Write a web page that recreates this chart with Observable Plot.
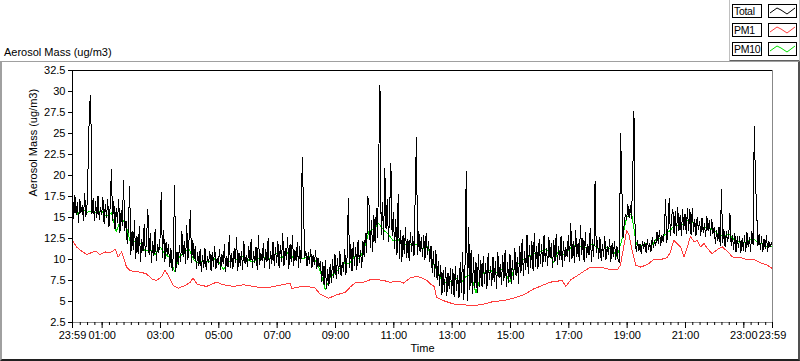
<!DOCTYPE html>
<html>
<head>
<meta charset="utf-8">
<script src="https://cdn.jsdelivr.net/npm/d3@7"></script>
<script src="https://cdn.jsdelivr.net/npm/@observablehq/plot@0.6"></script>
<style>
  html, body { margin: 0; padding: 0; background: #fff; }
  #wrap { position: relative; width: 800px; height: 361px; overflow: hidden; font-family: 'Liberation Sans', Arial, sans-serif; font-size: 11px; color: #000; }
  #header { position: absolute; left: 0; top: 0; width: 800px; height: 61px; }
  #title { position: absolute; left: 4px; top: 46px; line-height: 13px; white-space: nowrap; }
  #chart { position: absolute; left: 0; top: 61px; width: 800px; height: 300px; }
  .lbl { position: absolute; left: 732px; width: 28px; height: 12px; border: 1px solid #000; background: #fff; line-height: 12px; text-indent: 1px; white-space: nowrap; font-size: 10.5px; letter-spacing: -0.3px; overflow: hidden; }
  .sw { position: absolute; left: 768px; width: 27px; height: 12px; border: 1px solid #000; background: #fff; }
  .sw svg { position: absolute; left: 0; top: 0; }
  #mainBox { position: absolute; left: 0; top: 61px; width: 796px; height: 297px; border-top: 1px solid #a0a0a0; border-left: 2px solid #a0a0a0; border-right: 2px solid #505050; border-bottom: 2px solid #202020; pointer-events: none; }
  #legBox { position: absolute; left: 729px; top: 0; width: 69px; height: 60px; border-left: 1px solid #c0c0c0; border-bottom: 2px solid #606060; border-right: 1px solid #c0c0c0; pointer-events: none; }
</style>
</head>
<body>
<div id="wrap">
  <div id="header">
    <div id="title"></div>
  </div>
  <div id="legBox"></div>
  <div id="chart"></div>
  <div id="mainBox"></div>
</div>
<script>
// ---- Data ----
const chartTitle = "Aerosol Mass (ug/m3)";
const yLabel = "Aerosol Mass (ug/m3)";
const xLabel = "Time";
const seriesNames = ["Total", "PM1", "PM10"];
const seriesColors = ["#000000", "#ff3c3c", "#00e000"];
const xTickLabels = ["23:59","01:00","03:00","05:00","07:00","09:00","11:00","13:00","15:00","17:00","19:00","21:00","23:00","23:59"];
const yTicks = [2.5, 5, 7.5, 10, 12.5, 15, 17.5, 20, 22.5, 25, 27.5, 30, 32.5];

// Total: one value every 2.5 minutes starting 23:59 (24 per hour)
const total = [
  18.4,14.9,17.6,15.3,16.8,14.4,17.2,15.6,16.4,14.7,17.9,15.1,16.6,22.0,28.5,29.5,15.4,17.3,14.6,16.9,15.0,17.6,14.8,16.2,
  15.3,17.4,14.2,16.6,15.0,17.1,13.9,16.3,20.7,14.6,16.9,13.6,16.1,14.4,17.2,13.2,15.8,14.0,19.4,13.5,14.6,11.9,13.8,18.7,
  10.6,13.4,11.2,14.6,10.1,12.8,10.7,13.9,9.8,12.4,11.0,14.2,10.3,12.7,16.0,10.5,13.1,9.7,12.2,10.4,13.6,9.9,11.8,10.8,
  12.4,18.0,10.2,13.5,9.8,12.1,10.6,11.8,9.1,11.3,8.7,10.6,18.8,8.6,10.9,9.4,11.7,9.7,13.4,10.3,12.2,9.5,14.1,10.0,
  12.6,15.8,9.6,12.3,10.1,11.5,8.9,10.8,9.3,11.2,8.6,10.5,9.0,11.4,8.8,10.3,9.6,11.0,8.7,10.9,9.2,11.6,8.9,10.2,
  9.4,11.2,8.8,10.6,9.5,11.8,8.6,10.4,9.1,12.9,9.0,10.7,8.9,11.3,9.6,12.6,8.7,10.8,9.3,11.0,8.8,12.2,9.5,10.5,
  9.2,11.6,9.8,12.4,9.0,10.9,9.6,11.5,8.8,12.8,9.4,10.7,9.9,11.9,9.1,11.2,9.7,12.5,8.9,11.0,9.5,12.1,9.3,11.4,
  9.6,12.2,9.0,11.7,9.8,13.1,9.2,11.3,10.0,12.6,8.9,11.8,9.7,12.9,9.3,11.1,9.8,12.0,9.1,11.5,9.6,22.1,17.0,10.2,
  11.0,9.2,10.8,9.5,11.2,9.0,10.5,9.4,11.1,8.9,10.2,9.1,9.8,7.4,9.6,7.0,9.9,6.5,8.8,6.9,9.4,7.3,10.0,7.8,
  10.6,7.7,10.1,8.3,11.0,8.0,9.7,8.6,11.2,8.2,10.4,17.3,9.1,11.8,8.6,12.0,9.3,11.4,8.8,12.3,9.6,11.1,9.0,12.2,
  10.3,13.1,10.8,17.5,16.5,11.4,14.6,10.9,15.2,12.0,16.1,12.6,21.9,30.8,13.0,16.8,12.4,20.9,13.6,17.2,12.1,15.9,21.4,12.8,
  15.6,11.3,14.8,10.6,17.8,10.1,13.5,9.8,12.9,10.7,13.8,10.2,12.4,9.9,13.2,11.0,12.7,10.4,17.7,24.5,10.6,13.4,10.9,12.6,
  10.3,12.9,10.0,13.1,10.6,12.2,9.7,11.6,8.4,10.9,8.0,11.1,7.6,9.8,6.9,9.3,5.8,8.7,6.2,9.1,5.7,8.4,6.5,8.9,
  6.0,8.8,5.6,9.2,6.3,8.1,5.4,9.6,6.1,10.8,5.2,9.4,20.5,5.1,13.8,6.4,11.1,5.9,10.2,6.6,9.7,6.0,10.6,6.8,
  9.9,6.7,10.4,7.2,9.5,6.5,10.7,7.6,9.2,6.9,10.3,7.4,9.8,6.6,10.9,7.8,9.4,7.0,10.5,7.5,11.1,6.8,9.7,7.3,
  10.6,7.1,9.9,7.6,11.3,8.0,10.2,7.2,11.6,8.4,12.4,8.1,11.0,8.8,12.9,8.3,11.7,9.0,12.2,8.6,13.1,9.2,11.5,8.9,
  12.4,9.5,11.8,9.1,12.9,9.8,11.3,9.3,12.6,10.2,11.9,9.0,12.3,9.7,13.0,9.4,11.6,10.0,12.8,9.2,12.1,9.9,11.4,10.3,
  12.9,9.8,14.3,10.1,12.2,9.6,13.5,10.4,11.9,9.9,14.0,10.6,12.5,9.7,13.2,10.2,11.8,10.5,13.7,9.8,12.4,10.3,19.3,10.8,
  12.3,10.1,12.6,9.9,11.8,10.4,12.7,10.0,11.5,10.6,12.4,9.8,11.9,10.3,12.2,10.0,11.6,9.8,9.7,25.0,18.9,12.6,14.3,15.4,
  14.8,16.6,15.0,16.4,14.9,20.0,27.6,12.1,10.9,12.3,11.0,11.8,10.7,12.2,11.3,12.0,10.8,12.4,11.2,11.9,10.9,12.6,11.4,12.3,
  11.7,13.3,11.9,13.5,11.6,12.9,12.1,13.4,17.1,12.0,13.6,17.3,12.8,15.1,16.0,13.0,15.7,12.9,16.2,13.4,15.3,12.8,15.9,13.6,
  15.4,13.1,16.1,13.5,16.0,12.9,16.1,13.3,14.8,12.8,15.0,13.6,14.5,12.9,14.9,13.2,14.3,12.7,15.1,13.4,14.6,12.9,14.8,13.1,
  13.8,11.9,13.5,12.2,13.9,11.7,18.3,12.0,13.6,11.5,13.3,12.1,13.0,15.5,11.6,12.9,11.2,13.1,10.9,12.7,11.4,12.8,10.8,12.5,
  11.1,12.9,10.9,13.2,11.5,12.6,11.0,13.4,11.8,25.8,19.3,15.7,11.6,13.0,11.2,12.7,10.9,12.4,11.3,12.9,11.0,12.2,11.5,12.0,
  11.6
];

// PM10: one value every 10 minutes starting 23:59 (6 per hour)
const pm10 = [
  16.0,15.4,16.1,15.6,15.8,15.5,
  15.8,15.1,15.6,13.3,15.0,14.1,
  11.8,12.2,11.9,11.0,11.2,10.6,
  11.5,10.7,10.2,8.6,10.3,10.9,
  11.2,9.9,9.6,9.9,9.7,10.1,
  9.9,8.8,9.6,10.2,9.9,10.4,
  10.0,9.7,10.0,10.5,9.8,10.3,
  10.7,10.1,10.9,10.2,10.6,10.1,
  10.2,10.4,9.8,8.6,6.4,7.9,
  8.4,9.0,9.6,9.5,10.4,10.1,
  11.2,13.4,13.6,14.3,13.5,13.0,
  12.2,12.4,11.5,12.0,11.6,11.9,
  11.3,11.6,9.8,8.7,7.5,7.2,
  7.4,7.7,7.3,8.0,8.2,6.0,
  8.1,8.5,8.7,8.3,8.9,8.4,
  7.3,9.2,9.6,10.1,10.4,10.7,
  10.8,11.2,11.0,9.6,11.1,10.6,
  11.1,11.7,11.4,11.6,11.3,11.9,
  11.3,11.1,11.5,11.2,10.3,12.3,
  15.0,15.5,11.8,11.6,11.9,11.5,
  12.4,12.6,13.0,13.5,14.2,13.9,
  14.4,14.9,14.1,14.0,13.8,13.7,
  13.4,13.0,12.7,13.1,12.4,12.1,
  11.9,12.2,12.5,12.0,11.8,11.5,
  11.6
];

// PM1: minutes after 23:59 and values
const pm1Min = [0,8,19,29,43,49,56,67,77,88,94,101,106,111,118,125,139,152,163,173,184,190,197,207,218,232,242,248,256,266,276,296,310,331,352,372,392,406,424,448,451,461,482,499,509,527,544,561,571,581,599,613,626,640,653,671,681,695,709,719,729,736,744,749,763,784,805,825,846,866,887,908,928,949,970,983,1007,1015,1025,1039,1052,1066,1079,1093,1107,1121,1127,1134,1140,1145,1151,1159,1169,1183,1189,1196,1210,1223,1230,1237,1244,1251,1258,1265,1271,1279,1285,1292,1299,1306,1316,1327,1337,1348,1358,1375,1388,1402,1416,1430,1440];
const pm1 = [12.3,11.5,11.0,10.6,10.9,11.0,10.6,10.9,10.8,11.2,10.3,10.9,10.1,9.1,8.7,8.6,8.5,8.3,7.7,7.5,8.0,8.7,8.1,6.9,6.6,6.9,7.3,7.8,7.1,6.9,6.8,7.3,7.0,6.8,7.0,6.8,6.6,6.7,6.9,7.2,6.5,6.7,6.8,6.6,5.9,5.4,5.8,6.1,6.7,7.2,7.3,7.6,7.6,7.5,7.3,7.4,7.2,7.8,8.0,7.8,7.5,7.1,6.8,5.5,5.1,4.7,4.6,4.5,4.7,5.0,5.1,5.4,5.8,6.5,7.0,7.3,7.5,6.8,7.6,8.1,8.6,9.1,9.0,9.0,8.8,8.8,9.3,11.5,13.5,12.9,11.1,9.3,9.1,9.4,9.7,10.0,10.0,10.2,10.9,12.3,11.9,11.5,10.3,11.5,12.7,12.1,12.3,11.5,11.9,11.3,10.7,11.2,11.5,10.9,10.3,10.2,10.0,10.0,9.6,9.3,8.9];

// ---- Build ----
const start = Date.UTC(2020, 0, 1, 23, 59);
const end = start + 1440 * 60000;
const T = m => new Date(start + m * 60000);

const totalData = total.map((v, i) => ({t: T(i * 2.5), v}));
const pm10Data = pm10.map((v, i) => ({t: T(i * 10), v}));
const pm1Data = pm1.map((v, i) => ({t: T(pm1Min[i]), v}));

const majorTicks = xTickLabels.map((s, i) => {
  if (i === 0) return new Date(start);
  if (i === xTickLabels.length - 1) return new Date(end);
  const [h, m] = s.split(":").map(Number);
  return new Date(Date.UTC(2020, 0, 2, h, m));
});
const minorTicks = d3.utcMinute.every(15).range(new Date(start + 5 * 60000), new Date(end - 5 * 60000));
const fmt = d3.utcFormat("%H:%M");

const chart = Plot.plot({
  width: 800,
  height: 300,
  marginTop: 9,
  marginLeft: 72,
  marginRight: 28,
  marginBottom: 39,
  style: {fontFamily: "'Liberation Sans', Arial, sans-serif", fontSize: "11px", color: "#000", background: "#fff", overflow: "visible"},
  x: {type: "utc", domain: [new Date(start), new Date(end)]},
  y: {domain: [2.5, 32.5]},
  marks: [
    Plot.line(pm10Data, {x: "t", y: "v", stroke: seriesColors[2], strokeWidth: 1, shapeRendering: "crispEdges"}),
    Plot.line(pm1Data, {x: "t", y: "v", stroke: seriesColors[1], strokeWidth: 1, shapeRendering: "crispEdges"}),
    Plot.line(totalData, {x: "t", y: "v", stroke: seriesColors[0], strokeWidth: 1, shapeRendering: "crispEdges"}),
    Plot.ruleY([32.5], {stroke: "#000"}),
    Plot.ruleX([new Date(start)], {stroke: "#000"}),
    Plot.ruleX([new Date(end)], {stroke: "#888"}),
    Plot.ruleY([2.5], {stroke: "#888"}),
    Plot.axisY({ticks: yTicks, tickSize: 4, tickPadding: 3, label: null, tickFormat: d => String(d)}),
    Plot.axisX({ticks: minorTicks, tickSize: 3, tickPadding: 3, label: null, tickFormat: () => ""}),
    Plot.axisX({ticks: majorTicks, tickSize: 6, tickPadding: 3, label: null, tickFormat: fmt}),
    Plot.text([yLabel], {frameAnchor: "left", dx: -39, rotate: -90, text: d => d, fontSize: 11}),
    Plot.text([xLabel], {frameAnchor: "bottom", dy: 29, text: d => d, fontSize: 11})
  ]
});
document.getElementById("chart").appendChild(chart);

// ---- Header: title + legend ----
document.getElementById("title").textContent = chartTitle;
const header = document.getElementById("header");
seriesNames.forEach((name, i) => {
  const top = 4 + i * 19;
  const l = document.createElement("div");
  l.className = "lbl";
  l.style.top = top + "px";
  l.textContent = name;
  header.appendChild(l);
  const s = document.createElement("div");
  s.className = "sw";
  s.style.top = top + "px";
  s.innerHTML = `<svg width="27" height="12"><polyline points="1,8 8,3 12,5 18,9 26,3" fill="none" stroke="${seriesColors[i]}" stroke-width="1"/></svg>`;
  header.appendChild(s);
});
</script>
</body>
</html>
